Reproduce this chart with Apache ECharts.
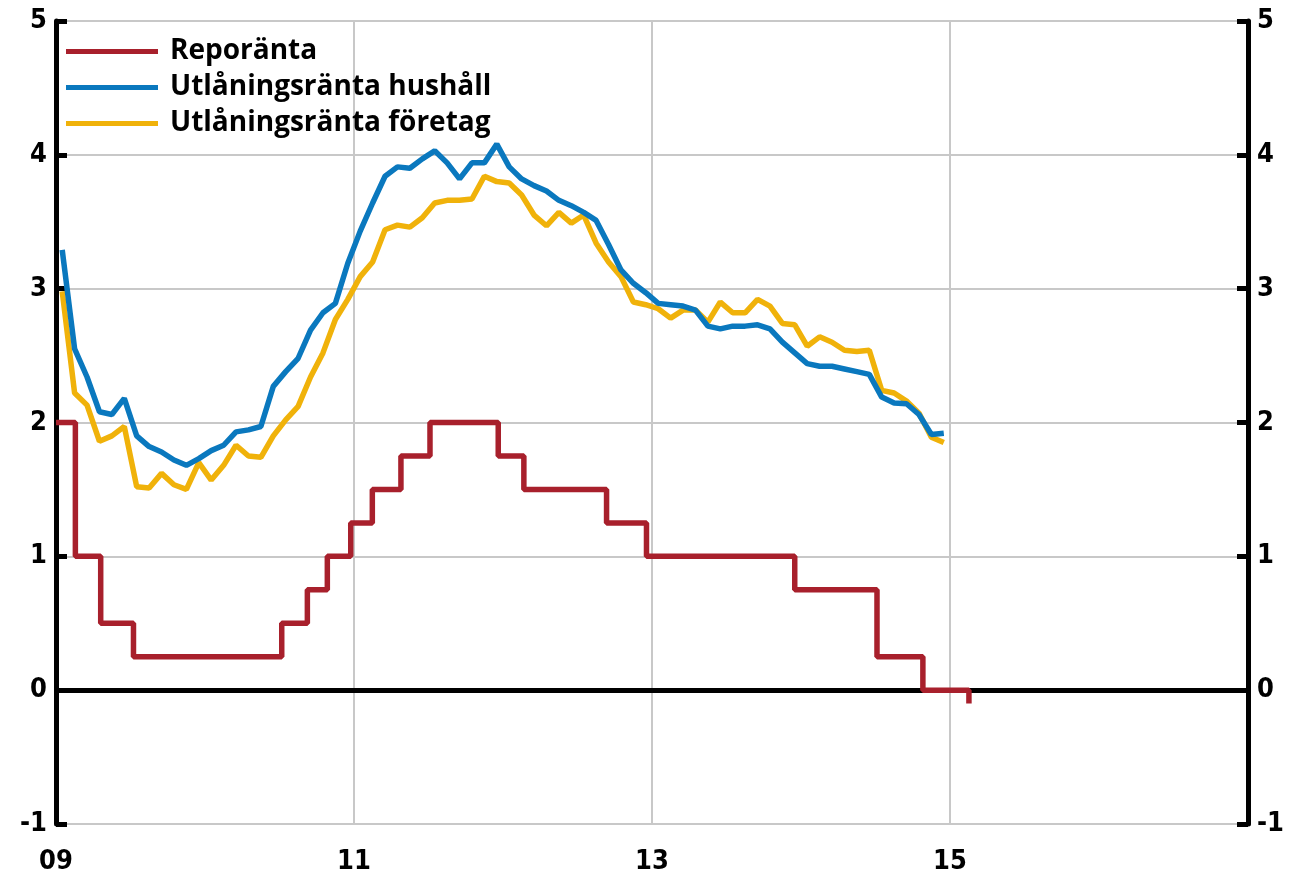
<!DOCTYPE html>
<html>
<head>
<meta charset="utf-8">
<script src="https://cdn.jsdelivr.net/npm/echarts@6/dist/echarts.min.js"></script>
<style>
  html, body { margin: 0; padding: 0; background: #fff; }
  #chart { width: 1292px; height: 877px; }
</style>
</head>
<body>
<div id="chart"></div>
<script>
// Reporänta: datum för ändring (decimalår) och ny nivå
var repoDates = [2009.0, 2009.13, 2009.30, 2009.52, 2010.515, 2010.687, 2010.821, 2010.978,
  2011.123, 2011.315, 2011.51, 2011.968, 2012.14, 2012.695, 2012.963, 2013.958,
  2014.51, 2014.818, 2015.127];
var repoRates = [2.0, 1.0, 0.5, 0.25, 0.5, 0.75, 1.0, 1.25,
  1.5, 1.75, 2.0, 1.75, 1.5, 1.25, 1.0, 0.75,
  0.25, 0.0, -0.1];

// månadsdata jan 2009 - dec 2014
var startYear = 2009;
var hushall = [
  3.29, 2.55, 2.34, 2.08, 2.06, 2.18, 1.90, 1.82, 1.78, 1.72, 1.68, 1.73,
  1.79, 1.83, 1.93, 1.945, 1.97, 2.27, 2.38, 2.48, 2.69, 2.82, 2.89, 3.19,
  3.43, 3.64, 3.84, 3.91, 3.90, 3.97, 4.03, 3.94, 3.82, 3.94, 3.94, 4.08,
  3.91, 3.82, 3.77, 3.73, 3.66, 3.62, 3.57, 3.51, 3.33, 3.14, 3.04, 2.97,
  2.89, 2.88, 2.87, 2.84, 2.72, 2.70, 2.72, 2.72, 2.73, 2.70, 2.60, 2.52,
  2.44, 2.42, 2.42, 2.40, 2.38, 2.36, 2.19, 2.145, 2.14, 2.06, 1.91, 1.92
];
var foretag = [
  2.98, 2.22, 2.13, 1.86, 1.90, 1.97, 1.52, 1.51, 1.62, 1.535, 1.50, 1.70,
  1.57, 1.68, 1.83, 1.75, 1.74, 1.90, 2.02, 2.12, 2.34, 2.52, 2.77, 2.92,
  3.09, 3.20, 3.44, 3.475, 3.46, 3.53, 3.64, 3.66, 3.66, 3.67, 3.84, 3.80,
  3.79, 3.70, 3.55, 3.47, 3.57, 3.49, 3.55, 3.34, 3.20, 3.09, 2.90, 2.88,
  2.85, 2.78, 2.84, 2.84, 2.75, 2.90, 2.82, 2.82, 2.92, 2.87, 2.74, 2.73,
  2.57, 2.64, 2.60, 2.54, 2.53, 2.54, 2.24, 2.22, 2.16, 2.07, 1.89, 1.85
];

var seriesNames = ['Reporänta', 'Utlåningsränta hushåll', 'Utlåningsränta företag'];
var colors = ['#a8202c', '#0a78be', '#f0b20a'];

function monthly(arr) {
  return arr.map(function (v, i) { return [startYear + (i + 0.5) / 12, v]; });
}

var repoData = repoDates.map(function (d, i) { return [d, repoRates[i]]; });

var chart = echarts.init(document.getElementById('chart'), null, { renderer: 'canvas' });

var labelFont = "'DejaVu Sans Condensed', 'Liberation Sans Narrow', 'DejaVu Sans', sans-serif";

var yAxisBase = {
  type: 'value',
  min: -1,
  max: 5,
  interval: 1,
  axisLine: { show: true, lineStyle: { color: '#000', width: 5 } },
  axisTick: { show: true, inside: true, length: 11, lineStyle: { color: '#000', width: 5 } },
  axisLabel: { color: '#000', fontSize: 27, fontWeight: 'bold', fontFamily: labelFont, margin: 9 }
};

var option = {
  animation: false,
  backgroundColor: '#fff',
  color: colors,
  grid: { left: 56, right: 44, top: 21, bottom: 53, containLabel: false },
  legend: {
    data: seriesNames,
    orient: 'vertical',
    left: 66,
    top: 37,
    padding: 0,
    icon: 'rect',
    itemWidth: 92,
    itemHeight: 5,
    itemGap: 7,
    textStyle: {
      color: '#000', fontSize: 28, fontWeight: 'bold',
      fontFamily: "'Open Sans', 'Noto Sans', sans-serif",
      lineHeight: 29, padding: [0, 0, 0, 7]
    }
  },
  xAxis: {
    type: 'value',
    min: 2009,
    max: 2017,
    interval: 2,
    axisLine: { show: false, onZero: false },
    axisTick: { show: false },
    splitLine: { show: true, lineStyle: { color: '#c8c8c8', width: 2 } },
    axisLabel: {
      color: '#000', fontSize: 27, fontWeight: 'bold', fontFamily: labelFont, margin: 24,
      formatter: function (v) { return v >= 2017 ? '' : String(v).slice(2); }
    }
  },
  yAxis: [
    Object.assign({}, yAxisBase, {
      position: 'left',
      splitLine: { show: true, lineStyle: { color: '#c8c8c8', width: 2 } }
    }),
    Object.assign({}, yAxisBase, {
      position: 'right',
      splitLine: { show: false }
    })
  ],
  series: [
    {
      name: seriesNames[0],
      type: 'line',
      step: 'end',
      data: repoData,
      symbol: 'none',
      z: 4,
      lineStyle: { color: colors[0], width: 5.5 },
      markLine: {
        silent: true,
        symbol: 'none',
        label: { show: false },
        lineStyle: { color: '#000', width: 5, type: 'solid' },
        z: 3,
        data: [{ yAxis: 0 }]
      }
    },
    {
      name: seriesNames[1],
      type: 'line',
      data: monthly(hushall),
      symbol: 'none',
      z: 3,
      lineStyle: { color: colors[1], width: 5.5 }
    },
    {
      name: seriesNames[2],
      type: 'line',
      data: monthly(foretag),
      symbol: 'none',
      z: 2,
      lineStyle: { color: colors[2], width: 5.5 }
    }
  ]
};

chart.setOption(option);
</script>
</body>
</html>
